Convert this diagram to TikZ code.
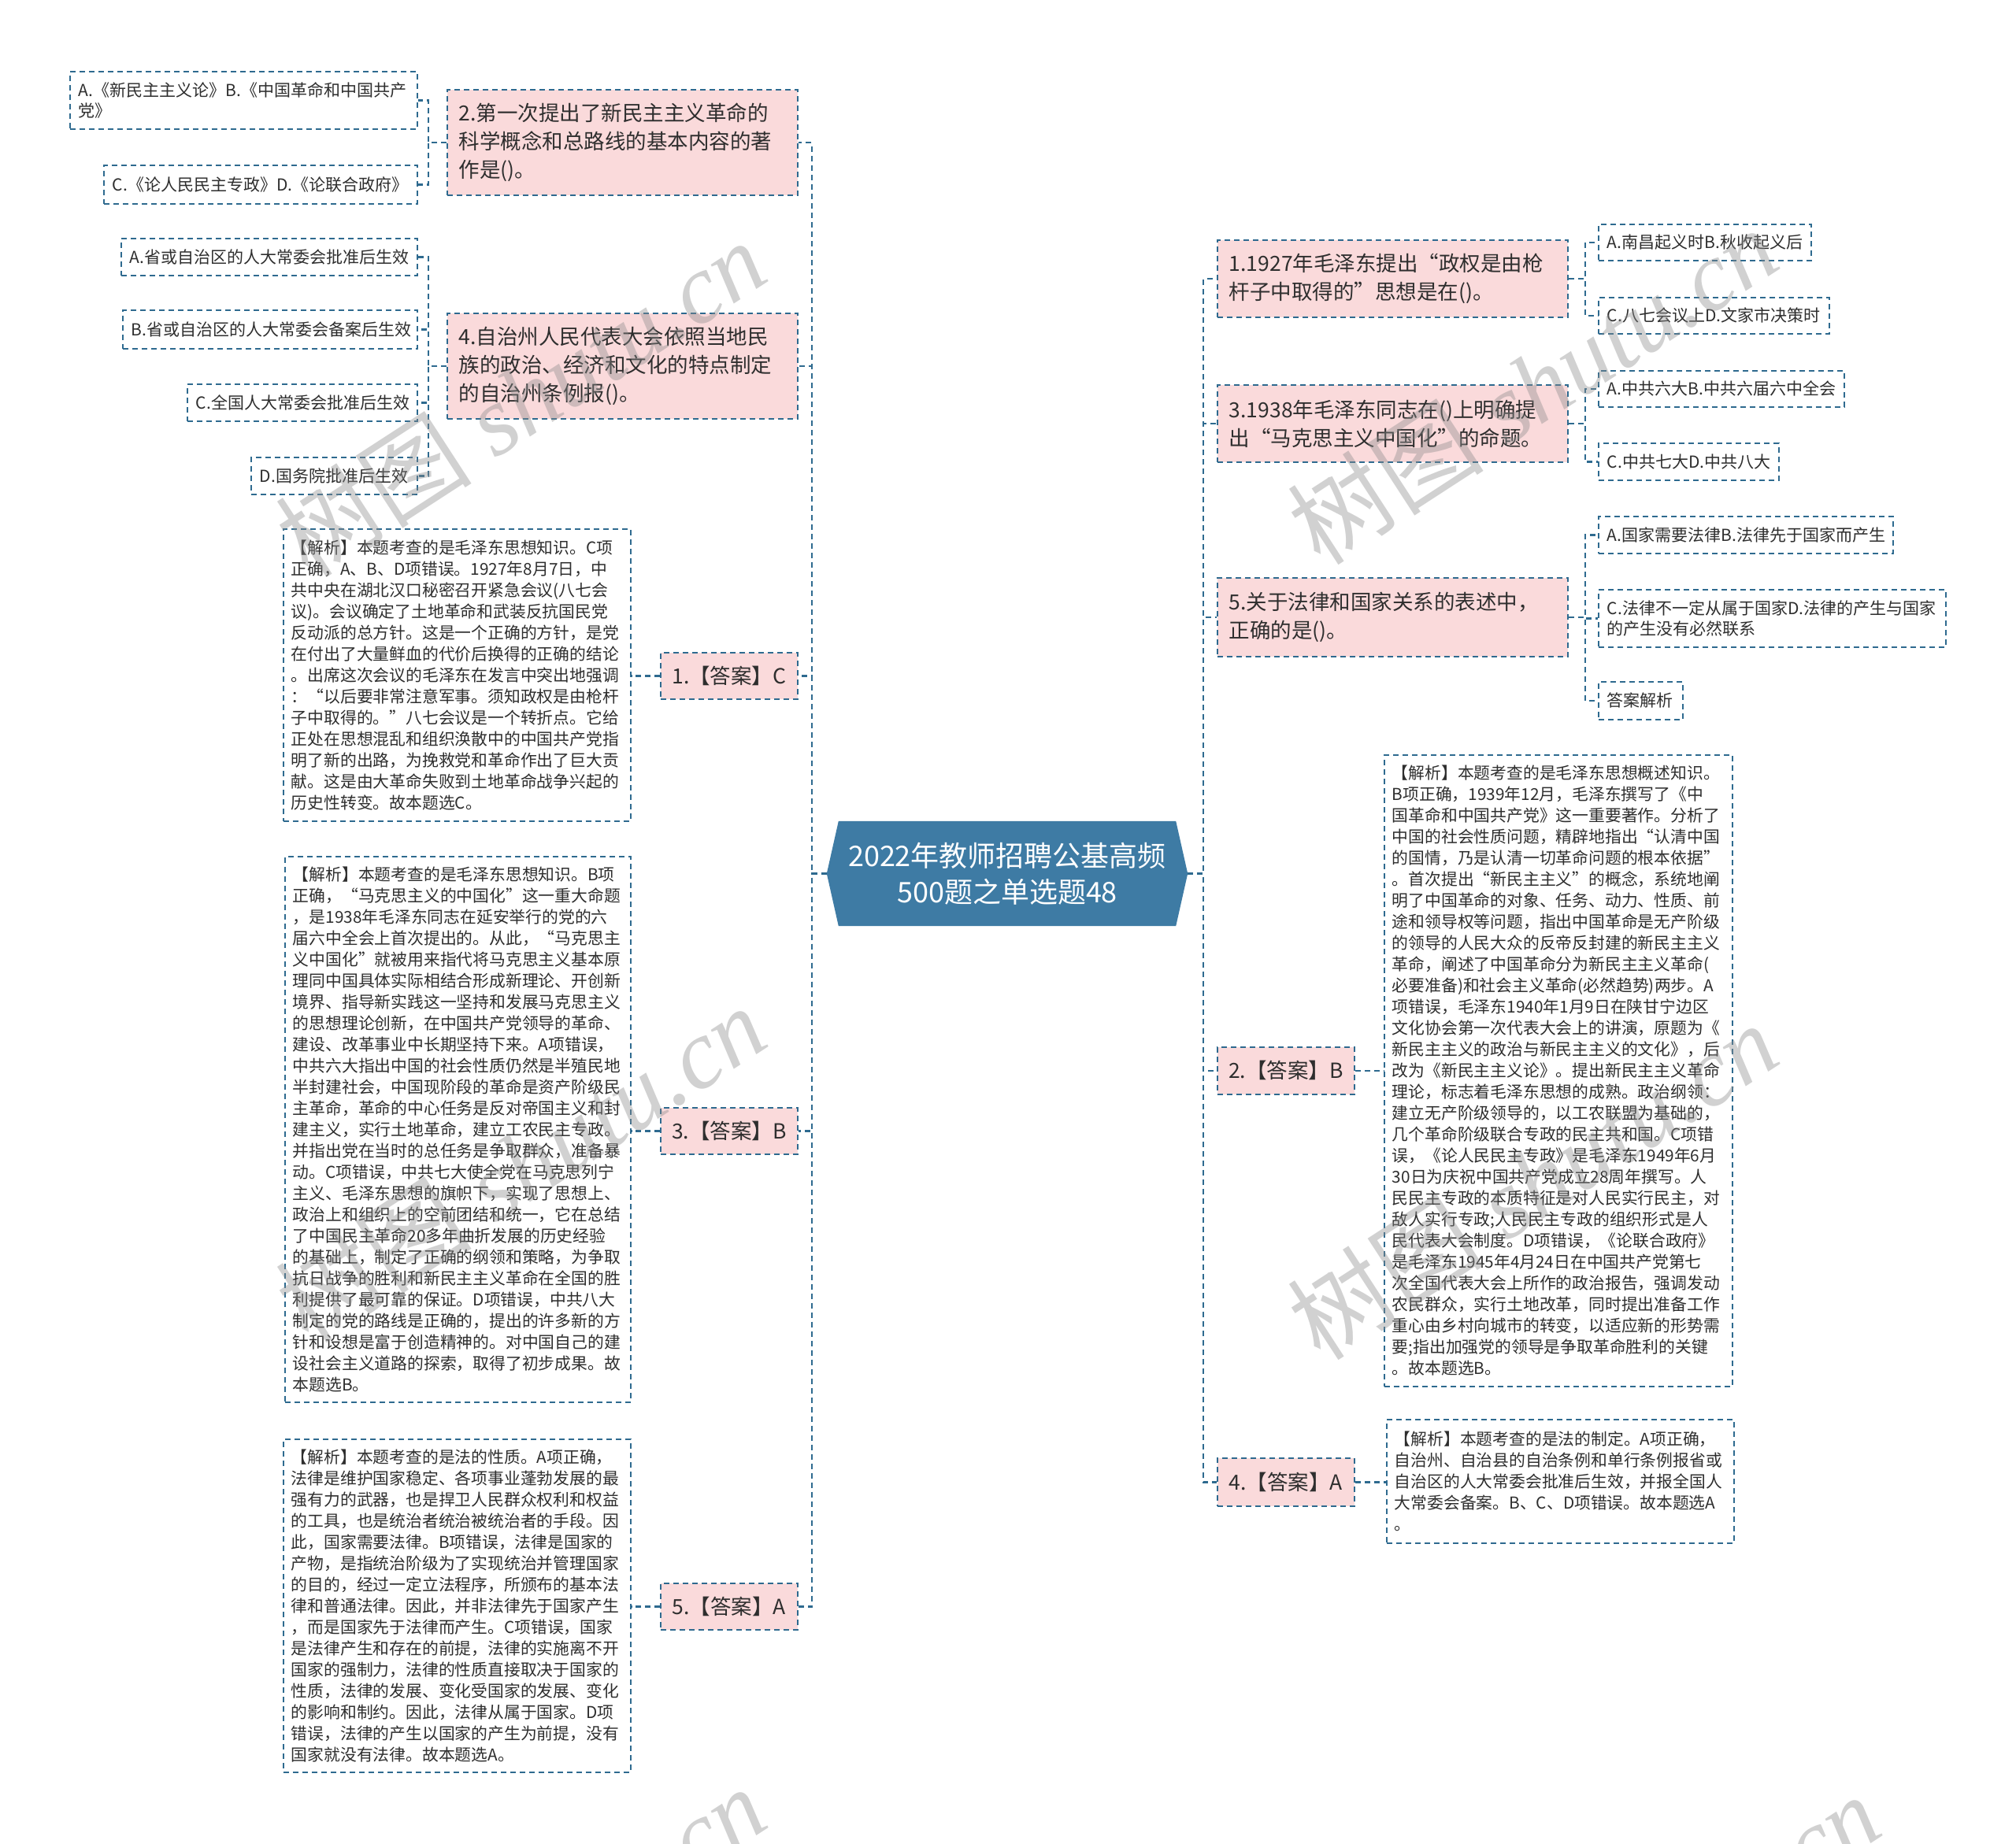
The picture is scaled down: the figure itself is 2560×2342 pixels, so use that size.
\documentclass[tikz,border=0pt]{standalone}
\usepackage{fontspec}
\setmainfont{Noto Sans CJK SC}
\newfontfamily\wmlatin{Liberation Serif}
\usetikzlibrary{backgrounds}
\definecolor{lineblue}{HTML}{2E6A8F}
\definecolor{pinkfill}{HTML}{FADADB}
\definecolor{centerfill}{HTML}{3E7BA4}
\definecolor{txtgray}{HTML}{2E2E2E}
\tikzset{
  dsh/.style={dash pattern=on 7pt off 5pt},
  basebox/.style={draw=lineblue, dsh, line width=1.8pt, text=txtgray, anchor=north west, inner ysep=0pt, align=left},
  qbox/.style={basebox, fill=pinkfill, font=\fontsize{26.5}{36}\selectfont, inner xsep=15pt},
  ansbox/.style={basebox, fill=pinkfill, font=\fontsize{26.5}{36}\selectfont, align=center, inner xsep=0pt},
  optbox/.style={basebox, fill=white, font=\fontsize{21}{26}\selectfont, inner xsep=11pt},
  expbox/.style={basebox, fill=white, font=\fontsize{20.8}{27}\selectfont, inner xsep=10pt},
  conn/.style={draw=lineblue, dsh, line width=2.4pt},
  wm/.style={text=black!45, opacity=0.4, rotate=33, font=\fontsize{125}{125}\selectfont},
  sz/.style 2 args={minimum width=#1pt, minimum height=#2pt},
}
\begin{document}
\begin{tikzpicture}[x=1pt,y=-1pt]
\useasboundingbox (0,0) rectangle (2560,2342);

% central node
\node[font=\fontsize{36}{46}\selectfont, text=white, align=center, minimum width=458pt, minimum height=133pt, inner sep=0pt] (C) at (1279,1109.5) {2022年教师招聘公基高频\\500题之单选题48};
\begin{scope}[on background layer]
\fill[white] (0,0) rectangle (2560,2342);
\fill[centerfill] (C.west) -- ([xshift=15pt]C.north west) -- ([xshift=-15pt]C.north east) -- (C.east) -- ([xshift=-15pt]C.south east) -- ([xshift=15pt]C.south west) -- cycle;
\end{scope}

% ---------- left side ----------
\node[qbox, sz={445}{134}, text width=415pt] (Q2) at (567,113) {2.第一次提出了新民主主义革命的\\科学概念和总路线的基本内容的著\\作是()。};
\node[qbox, sz={445}{134}, text width=415pt] (Q4) at (567,397) {4.自治州人民代表大会依照当地民\\族的政治、经济和文化的特点制定\\的自治州条例报()。};
\node[ansbox, sz={174}{59}] (A1) at (838,828) {1.【答案】C};
\node[ansbox, sz={174}{59}] (A3) at (838,1406) {3.【答案】B};
\node[ansbox, sz={174}{59}] (A5) at (838,2010) {5.【答案】A};

\node[optbox, sz={441}{73}, text width=419pt] (O2a) at (88,90) {A.《新民主主义论》B.《中国革命和中国共产\\党》};
\node[optbox, sz={398}{49}, text width=376pt] (O2b) at (131,209) {C.《论人民民主专政》D.《论联合政府》};
\node[optbox, sz={376}{47}, text width=354pt] (O4a) at (153,302) {A.省或自治区的人大常委会批准后生效};
\node[optbox, sz={374}{49}, text width=352pt] (O4b) at (155,393) {B.省或自治区的人大常委会备案后生效};
\node[optbox, sz={292}{47}, text width=270pt] (O4c) at (237,487) {C.全国人大常委会批准后生效};
\node[optbox, sz={211}{47}, text width=189pt] (O4d) at (318,580) {D.国务院批准后生效};

\node[expbox, sz={441}{371}, text width=421pt] (E1) at (359,671) {【解析】本题考查的是毛泽东思想知识。C项\\正确，A、B、D项错误。1927年8月7日，中\\共中央在湖北汉口秘密召开紧急会议(八七会\\议)。会议确定了土地革命和武装反抗国民党\\反动派的总方针。这是一个正确的方针，是党\\在付出了大量鲜血的代价后换得的正确的结论\\。出席这次会议的毛泽东在发言中突出地强调\\：“以后要非常注意军事。须知政权是由枪杆\\子中取得的。”八七会议是一个转折点。它给\\正处在思想混乱和组织涣散中的中国共产党指\\明了新的出路，为挽救党和革命作出了巨大贡\\献。这是由大革命失败到土地革命战争兴起的\\历史性转变。故本题选C。};

\node[expbox, sz={439}{693}, text width=419pt] (E3) at (361,1087) {【解析】本题考查的是毛泽东思想知识。B项\\正确，“马克思主义的中国化”这一重大命题\\，是1938年毛泽东同志在延安举行的党的六\\届六中全会上首次提出的。从此，“马克思主\\义中国化”就被用来指代将马克思主义基本原\\理同中国具体实际相结合形成新理论、开创新\\境界、指导新实践这一坚持和发展马克思主义\\的思想理论创新，在中国共产党领导的革命、\\建设、改革事业中长期坚持下来。A项错误，\\中共六大指出中国的社会性质仍然是半殖民地\\半封建社会，中国现阶段的革命是资产阶级民\\主革命，革命的中心任务是反对帝国主义和封\\建主义，实行土地革命，建立工农民主专政。\\并指出党在当时的总任务是争取群众，准备暴\\动。C项错误，中共七大使全党在马克思列宁\\主义、毛泽东思想的旗帜下，实现了思想上、\\政治上和组织上的空前团结和统一，它在总结\\了中国民主革命20多年曲折发展的历史经验\\的基础上，制定了正确的纲领和策略，为争取\\抗日战争的胜利和新民主主义革命在全国的胜\\利提供了最可靠的保证。D项错误，中共八大\\制定的党的路线是正确的，提出的许多新的方\\针和设想是富于创造精神的。对中国自己的建\\设社会主义道路的探索，取得了初步成果。故\\本题选B。};

\node[expbox, sz={441}{423}, text width=421pt] (E5) at (359,1827) {【解析】本题考查的是法的性质。A项正确，\\法律是维护国家稳定、各项事业蓬勃发展的最\\强有力的武器，也是捍卫人民群众权利和权益\\的工具，也是统治者统治被统治者的手段。因\\此，国家需要法律。B项错误，法律是国家的\\产物，是指统治阶级为了实现统治并管理国家\\的目的，经过一定立法程序，所颁布的基本法\\律和普通法律。因此，并非法律先于国家产生\\，而是国家先于法律而产生。C项错误，国家\\是法律产生和存在的前提，法律的实施离不开\\国家的强制力，法律的性质直接取决于国家的\\性质，法律的发展、变化受国家的发展、变化\\的影响和制约。因此，法律从属于国家。D项\\错误，法律的产生以国家的产生为前提，没有\\国家就没有法律。故本题选A。};

% ---------- right side ----------
\node[qbox, sz={445}{98}, text width=415pt] (RQ1) at (1545,304) {1.1927年毛泽东提出“政权是由枪\\杆子中取得的”思想是在()。};
\node[qbox, sz={445}{98}, text width=415pt] (RQ3) at (1545,488) {3.1938年毛泽东同志在()上明确提\\出“马克思主义中国化”的命题。};
\node[qbox, sz={445}{100}, text width=415pt] (RQ5) at (1545,733) {5.关于法律和国家关系的表述中，\\正确的是()。};
\node[ansbox, sz={174}{60}] (A2) at (1545,1329) {2.【答案】B};
\node[ansbox, sz={174}{61}] (A4) at (1545,1851) {4.【答案】A};

\node[optbox, sz={270}{46}, text width=248pt] (R1a) at (2029,284) {A.南昌起义时B.秋收起义后};
\node[optbox, sz={293}{46}, text width=271pt] (R1b) at (2029,377) {C.八七会议上D.文家市决策时};
\node[optbox, sz={312}{46}, text width=290pt] (R3a) at (2029,470) {A.中共六大B.中共六届六中全会};
\node[optbox, sz={229}{47}, text width=207pt] (R3b) at (2029,562) {C.中共七大D.中共八大};
\node[optbox, sz={374}{47}, text width=352pt] (R5a) at (2029,655) {A.国家需要法律B.法律先于国家而产生};
\node[optbox, sz={441}{73}, text width=419pt] (R5b) at (2029,748) {C.法律不一定从属于国家D.法律的产生与国家\\的产生没有必然联系};
\node[optbox, sz={107}{48}, text width=85pt] (R5c) at (2029,865) {答案解析};

\node[expbox, sz={442}{802}, text width=422pt] (E2) at (1757,958) {【解析】本题考查的是毛泽东思想概述知识。\\B项正确，1939年12月，毛泽东撰写了《中\\国革命和中国共产党》这一重要著作。分析了\\中国的社会性质问题，精辟地指出“认清中国\\的国情，乃是认清一切革命问题的根本依据”\\。首次提出“新民主主义”的概念，系统地阐\\明了中国革命的对象、任务、动力、性质、前\\途和领导权等问题，指出中国革命是无产阶级\\的领导的人民大众的反帝反封建的新民主主义\\革命，阐述了中国革命分为新民主主义革命(\\必要准备)和社会主义革命(必然趋势)两步。A\\项错误，毛泽东1940年1月9日在陕甘宁边区\\文化协会第一次代表大会上的讲演，原题为《\\新民主主义的政治与新民主主义的文化》，后\\改为《新民主主义论》。提出新民主主义革命\\理论，标志着毛泽东思想的成熟。政治纲领：\\建立无产阶级领导的，以工农联盟为基础的，\\几个革命阶级联合专政的民主共和国。C项错\\误，《论人民民主专政》是毛泽东1949年6月\\30日为庆祝中国共产党成立28周年撰写。人\\民民主专政的本质特征是对人民实行民主，对\\敌人实行专政;人民民主专政的组织形式是人\\民代表大会制度。D项错误，《论联合政府》\\是毛泽东1945年4月24日在中国共产党第七\\次全国代表大会上所作的政治报告，强调发动\\农民群众，实行土地改革，同时提出准备工作\\重心由乡村向城市的转变，以适应新的形势需\\要;指出加强党的领导是争取革命胜利的关键\\。故本题选B。};

\node[expbox, sz={441}{157}, text width=421pt] (E4) at (1760,1802) {【解析】本题考查的是法的制定。A项正确，\\自治州、自治县的自治条例和单行条例报省或\\自治区的人大常委会批准后生效，并报全国人\\大常委会备案。B、C、D项错误。故本题选A\\。};

% ---------- connectors ----------
\path (C.west) ++(-19,0) coordinate (LT);
\path (C.east) ++(20,0) coordinate (RT);
\foreach \n in {Q2,Q4,A1,A3,A5} \draw[conn] (C.west) -- (LT) |- (\n.east);
\foreach \n in {RQ1,RQ3,RQ5,A2,A4} \draw[conn] (C.east) -- (RT) |- (\n.west);

\foreach \n in {O2a,O2b} \draw[conn] (Q2.west) -- ++(-23,0) |- (\n.east);
\foreach \n in {O4a,O4b,O4c,O4d} \draw[conn] (Q4.west) -- ++(-23,0) |- (\n.east);
\foreach \n in {R1a,R1b} \draw[conn] (RQ1.east) -- ++(21,0) |- (\n.west);
\foreach \n in {R3a,R3b} \draw[conn] (RQ3.east) -- ++(21,0) |- (\n.west);
\foreach \n in {R5a,R5b,R5c} \draw[conn] (RQ5.east) -- ++(21,0) |- (\n.west);

\draw[conn] (A1.west) -- (A1.west -| E1.east);
\draw[conn] (A3.west) -- (A3.west -| E3.east);
\draw[conn] (A5.west) -- (A5.west -| E5.east);
\draw[conn] (A2.east) -- (A2.east -| E2.west);
\draw[conn] (A4.east) -- (A4.east -| E4.west);

% ---------- watermarks ----------
\node[wm] (wm1) at (661,506) {树图\hspace{0.25em}{\wmlatin\itshape shutu.cn}};
\node[wm] (wm2) at (661,1478) {树图\hspace{0.25em}{\wmlatin\itshape shutu.cn}};
\node[wm] (wm3) at (1946,490) {树图\hspace{0.25em}{\wmlatin\itshape shutu.cn}};
\node[wm] (wm4) at (1946,1500) {树图\hspace{0.25em}{\wmlatin\itshape shutu.cn}};
\node[wm] (wm5) at (661,2470) {树图\hspace{0.25em}{\wmlatin\itshape shutu.cn}};
\node[wm] (wm6) at (2076,2480) {树图\hspace{0.25em}{\wmlatin\itshape shutu.cn}};
\end{tikzpicture}
\end{document}
